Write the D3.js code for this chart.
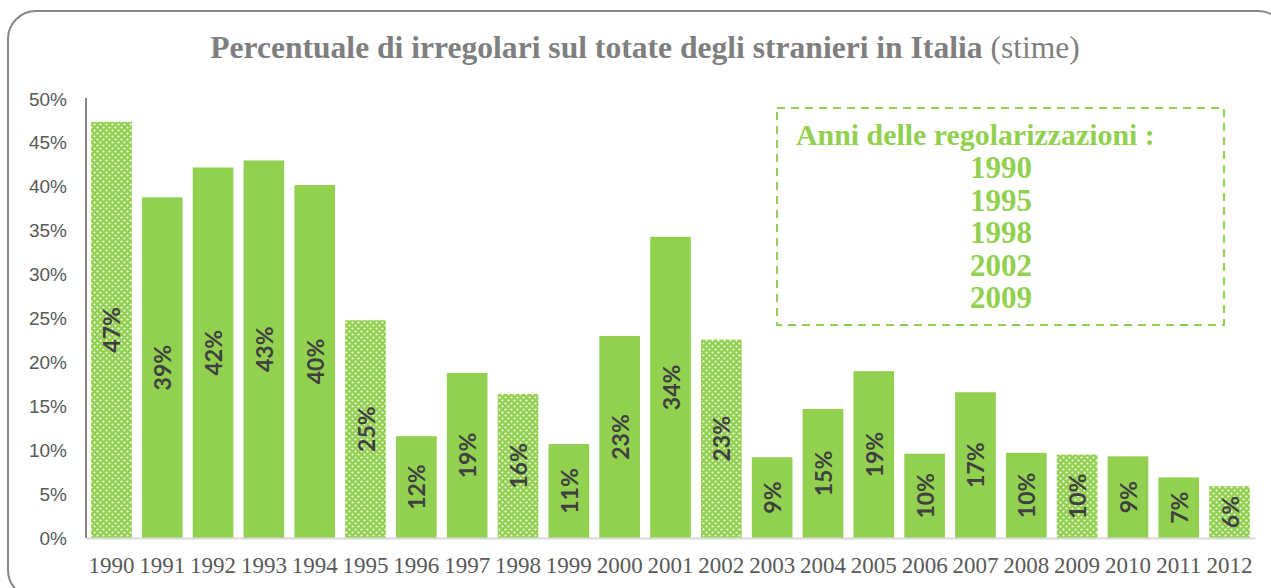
<!DOCTYPE html>
<html>
<head>
<meta charset="utf-8">
<script src="https://cdn.jsdelivr.net/npm/d3@7"></script>
<style>
    body { margin: 0; background: #fff; }
    #chart-area { width: 1271px; height: 588px; overflow: hidden; }
</style>
</head>
<body>
<div id="chart-area"></div>
<script>
/* * * * * * * * * * * * * *
*        BAR CHART         *
* * * * * * * * * * * * * */

// data
const years = [1990, 1991, 1992, 1993, 1994, 1995, 1996, 1997, 1998, 1999, 2000, 2001,
    2002, 2003, 2004, 2005, 2006, 2007, 2008, 2009, 2010, 2011, 2012];
const shares = [47.4, 38.8, 42.2, 43.0, 40.2, 24.8, 11.6, 18.8, 16.4, 10.7, 23.0, 34.3,
    22.6, 9.2, 14.7, 19.0, 9.6, 16.6, 9.7, 9.5, 9.3, 6.9, 5.9];
const dottedYears = [1990, 1995, 1998, 2002, 2009, 2012];
const regYears = ["1990", "1995", "1998", "2002", "2009"];
const yTicks = [0, 5, 10, 15, 20, 25, 30, 35, 40, 45, 50];

const titleBold = "Percentuale di irregolari sul totate degli stranieri in Italia";
const titleNormal = " (stime)";
const legendTitle = "Anni delle regolarizzazioni :";

class BarChart {
    constructor(parentElement) {
        this.parentElement = parentElement;
        this.data = years.map((y, i) => ({ year: y, value: shares[i], dotted: dottedYears.includes(y) }));
        this.initVis();
    }

    initVis() {
        let vis = this;

        vis.width = 1271;
        vis.height = 588;
        vis.green = "#92d050";

        vis.svg = d3.select(`#${vis.parentElement}`)
            .append("svg")
            .attr("width", vis.width)
            .attr("height", vis.height);

        // dotted fill for the regularization years
        let pattern = vis.svg.append("defs").append("pattern")
            .attr("id", "dots")
            .attr("patternUnits", "userSpaceOnUse")
            .attr("width", 6)
            .attr("height", 6);
        pattern.append("rect").attr("width", 6).attr("height", 6).attr("fill", vis.green);
        pattern.append("circle").attr("cx", 1.5).attr("cy", 1.5).attr("r", 1.05).attr("fill", "#fafdf5");
        pattern.append("circle").attr("cx", 4.5).attr("cy", 4.5).attr("r", 1.05).attr("fill", "#fafdf5");

        // outer rounded frame
        vis.svg.append("rect")
            .attr("x", 8).attr("y", 11)
            .attr("width", 1278).attr("height", 587)
            .attr("rx", 28).attr("ry", 28)
            .attr("fill", "none")
            .attr("stroke", "#878787")
            .attr("stroke-width", 2);

        // scales
        vis.x = d3.scaleBand()
            .domain(years)
            .range([86, 1255])
            .paddingInner(0.2)
            .paddingOuter(0.1);

        vis.y = d3.scaleLinear()
            .domain([0, 50])
            .range([538, 99]);

        // title
        let title = vis.svg.append("text")
            .attr("x", 645)
            .attr("y", 58)
            .attr("text-anchor", "middle")
            .attr("fill", "#7f7f7f")
            .style("font-family", "'Liberation Serif', 'DejaVu Serif', serif")
            .style("font-size", "26px");
        title.append("tspan").attr("font-weight", "bold").text(titleBold);
        title.append("tspan").text(titleNormal);
        vis.fitWidth(title, 870, 26);

        vis.updateVis();
    }

    // scale a text's font so it spans the wanted width
    fitWidth(sel, target, size) {
        let w = sel.node().getComputedTextLength();
        if (w > 0) sel.style("font-size", (size * target / w) + "px");
    }

    updateVis() {
        let vis = this;

        // y axis labels, no ticks
        let yAxis = d3.axisLeft(vis.y)
            .tickValues(yTicks)
            .tickFormat(d => d + "%")
            .tickSize(0)
            .tickPadding(19);

        vis.svg.append("g")
            .attr("transform", "translate(86,0)")
            .call(yAxis)
            .call(g => g.select(".domain").remove())
            .selectAll("text")
            .attr("fill", "#595959")
            .style("font-family", "'Liberation Sans', Arial, sans-serif")
            .style("font-size", "19px");

        // bars
        vis.svg.selectAll(".bar")
            .data(vis.data)
            .enter()
            .append("rect")
            .attr("class", "bar")
            .attr("x", d => vis.x(d.year))
            .attr("y", d => vis.y(d.value))
            .attr("width", vis.x.bandwidth())
            .attr("height", d => vis.y(0) - vis.y(d.value))
            .attr("fill", d => d.dotted ? "url(#dots)" : vis.green);

        // x axis: light baseline and year labels
        let xAxis = d3.axisBottom(vis.x)
            .tickSize(0)
            .tickPadding(19);

        let xg = vis.svg.append("g")
            .attr("transform", `translate(0, ${vis.y(0)})`)
            .call(xAxis);
        xg.select(".domain").attr("stroke", "#d9d9d9").attr("stroke-width", 2);
        xg.selectAll("text")
            .attr("fill", "#595959")
            .style("font-family", "'Liberation Serif', 'DejaVu Serif', serif")
            .style("font-size", "23px");

        // y axis line
        vis.svg.append("line")
            .attr("x1", 86).attr("x2", 86)
            .attr("y1", vis.y(50) - 1).attr("y2", vis.y(0))
            .attr("stroke", "#868686")
            .attr("stroke-width", 2);

        // value labels, rotated, centered in the bar
        vis.svg.selectAll(".value-label")
            .data(vis.data)
            .enter()
            .append("text")
            .attr("class", "value-label")
            .attr("transform", d => `translate(${vis.x(d.year) + vis.x.bandwidth() / 2}, ${(vis.y(d.value) + vis.y(0)) / 2}) rotate(-90)`)
            .attr("text-anchor", "middle")
            .attr("dominant-baseline", "central")
            .attr("fill", "#404040")
            .style("font-family", "Lato, 'Open Sans', sans-serif")
            .style("font-weight", "bold")
            .style("font-size", "23px")
            .text(d => Math.round(d.value) + "%");

        // legend box with the regularization years
        vis.svg.append("rect")
            .attr("x", 777).attr("y", 108)
            .attr("width", 447).attr("height", 217)
            .attr("fill", "none")
            .attr("stroke", vis.green)
            .attr("stroke-width", 2)
            .attr("stroke-dasharray", "8,6");

        let lt = vis.svg.append("text")
            .attr("x", 796)
            .attr("y", 145)
            .attr("fill", vis.green)
            .style("font-family", "'Liberation Serif', 'DejaVu Serif', serif")
            .style("font-weight", "bold")
            .style("font-size", "26px")
            .text(legendTitle);
        vis.fitWidth(lt, 359, 26);

        vis.svg.selectAll(".reg-year")
            .data(regYears)
            .enter()
            .append("text")
            .attr("class", "reg-year")
            .attr("x", 1001)
            .attr("y", (d, i) => 178 + i * 32.6)
            .attr("text-anchor", "middle")
            .attr("fill", vis.green)
            .style("font-family", "'Liberation Serif', 'DejaVu Serif', serif")
            .style("font-weight", "bold")
            .style("font-size", "31px")
            .text(d => d);
    }
}

new BarChart("chart-area");
</script>
</body>
</html>
